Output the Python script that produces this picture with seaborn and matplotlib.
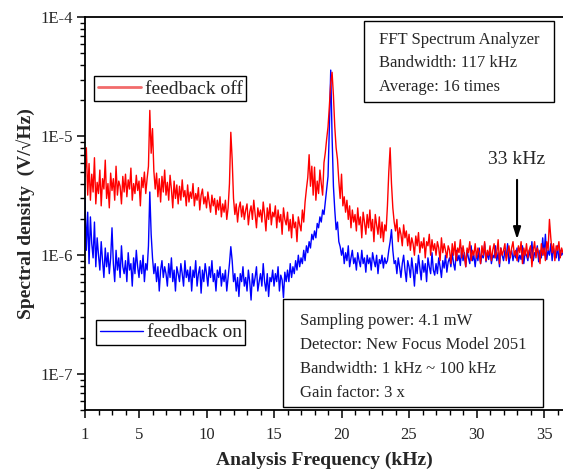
import numpy as np
import pandas as pd
import matplotlib
matplotlib.use("Agg")
import matplotlib.pyplot as plt
from matplotlib.lines import Line2D
from matplotlib.patches import Rectangle
from matplotlib.ticker import LogLocator, MultipleLocator, NullFormatter
import seaborn as sns

# spectral density in uV/sqrt(Hz), one row per kHz, 0.1 kHz steps from 1.0 kHz
red_off = [
    4.6, 8.0, 3.2, 5.9, 2.9, 4.8, 3.4, 6.6, 2.7, 4.1,
    3.3, 5.2, 2.6, 4.4, 3.6, 6.3, 3.0, 4.0, 2.5, 4.9,
    3.5, 4.4, 2.9, 5.6, 3.2, 4.2, 3.8, 2.7, 4.6, 3.4,
    4.8, 3.1, 4.3, 3.6, 5.4, 2.9, 4.0, 3.3, 4.7, 3.5,
    4.2, 2.6, 4.5, 3.7, 5.0, 3.3, 4.4, 5.6, 16.5, 7.2,
    11.6, 5.1, 3.6, 4.9, 3.1, 4.4, 2.8, 4.6, 3.4, 5.2,
    3.2, 4.1, 2.9, 4.7, 3.6, 2.5, 4.2, 3.0, 3.9, 2.7,
    3.8, 2.9, 4.3, 3.1, 3.5, 2.6, 3.9, 2.8, 3.4, 3.0,
    4.0, 2.6, 3.3, 2.9, 3.7, 2.4, 3.2, 3.6, 2.7, 3.1,
    2.5, 3.4, 2.8, 2.3, 3.2, 2.6, 3.0, 2.2, 2.9, 2.4,
    3.1, 2.1, 2.7, 2.3, 2.9, 2.0, 2.5, 4.0, 10.8, 6.4,
    3.0, 2.2, 2.7, 1.9, 2.5, 2.8, 2.1, 2.6, 2.0, 2.4,
    2.7, 1.8, 2.3, 2.6, 2.0, 2.9, 2.2, 1.7, 2.5, 2.1,
    2.4, 1.9, 2.8, 2.2, 1.6, 2.5, 2.0, 2.7, 1.8, 2.3,
    2.1, 2.6, 1.7, 2.4, 1.9, 2.2, 1.5, 2.5, 2.0, 1.8,
    2.3, 1.6, 2.0, 1.4, 2.2, 1.7, 1.9, 1.3, 2.1, 1.8,
    1.6, 2.4, 1.9, 2.8, 3.6, 4.5, 7.0, 3.8, 5.6, 3.2,
    5.5, 2.9, 4.2, 3.3, 5.2, 4.0, 3.2, 6.0, 7.3, 9.5,
    12.0, 18.0, 28.0, 34.5, 22.0, 12.0, 8.0, 6.4, 4.2, 3.0,
    4.8, 2.6, 3.1, 2.3, 2.9, 2.0, 2.6, 1.7, 2.4, 1.9,
    2.2, 1.6, 2.5, 1.8, 2.1, 1.4, 2.3, 1.9, 1.5, 2.2,
    1.7, 2.4, 1.6, 2.0, 1.3, 2.2, 1.8, 1.5, 2.1, 1.4,
    1.9, 1.3, 1.8, 1.6, 2.6, 5.0, 8.0, 4.0, 2.5, 1.9,
    1.6, 2.0, 1.3, 1.7, 1.5, 1.2, 1.8, 1.4, 1.6, 1.2,
    1.5, 1.1, 1.4, 1.25, 1.0, 1.45, 1.2, 1.55, 1.05, 1.3,
    1.15, 1.4, 0.95, 1.3, 1.2, 1.5, 1.0, 1.35, 1.1, 1.25,
    1.0, 1.3, 1.15, 0.9, 1.4, 1.05, 1.25, 1.1, 0.95, 1.2,
    1.1, 0.85, 1.25, 1.0, 1.3, 0.9, 1.15, 1.05, 1.35, 0.95,
    1.2, 1.0, 0.8, 1.15, 1.05, 1.3, 0.9, 1.1, 1.0, 1.25,
    0.95, 1.15, 1.05, 0.85, 1.2, 1.0, 1.3, 0.9, 1.1, 1.0,
    1.2, 0.9, 1.1, 1.25, 0.95, 1.05, 1.35, 0.85, 1.15, 1.0,
    1.1, 1.25, 0.9, 1.05, 1.2, 0.95, 1.15, 1.3, 1.0, 1.1,
    0.9, 1.2, 1.05, 1.3, 0.85, 1.15, 1.0, 1.25, 0.95, 1.1,
    1.2, 0.8, 1.1, 1.3, 0.95, 1.15, 1.05, 0.85, 1.25, 1.0,
    1.15, 0.9, 1.3, 1.1, 2.0, 1.4, 1.05, 1.25, 0.9, 1.2,
    1.1, 1.3, 0.95, 1.15, 1.05,
]

blue_on = [
    3.0, 1.1, 2.3, 0.85, 2.1, 1.25, 0.95, 1.9, 0.8, 1.4,
    1.0, 0.75, 1.3, 0.9, 0.65, 1.15, 0.8, 1.05, 0.7, 0.95,
    1.7, 0.85, 0.6, 1.1, 0.75, 0.95, 0.65, 1.2, 0.8, 0.7,
    0.9, 0.6, 1.05, 0.75, 0.85, 0.55, 0.95, 0.7, 1.1, 0.8,
    0.65, 0.9, 0.7, 1.0, 0.6, 0.85, 0.75, 1.2, 3.4, 1.5,
    0.95, 0.7, 0.85, 0.6, 0.8, 0.5, 0.75, 0.9, 0.65, 0.8,
    0.7, 0.55, 0.85, 0.65, 0.95, 0.6, 0.75, 0.5, 0.8, 0.7,
    0.6, 0.85, 0.7, 0.55, 0.9, 0.65, 0.75, 0.6, 0.8, 0.5,
    0.75, 0.65, 0.9, 0.55, 0.7, 0.8, 0.48, 0.75, 0.6, 0.85,
    0.7, 0.55, 0.8, 0.65, 0.9, 0.6, 0.7, 0.5, 0.75, 0.65,
    0.8, 0.55, 0.7, 0.6, 0.75, 0.5, 0.65, 0.85, 1.18, 0.9,
    0.6, 0.7, 0.5, 0.65, 0.45, 0.7, 0.6, 0.8, 0.55, 0.65,
    0.5, 0.75, 0.6, 0.42, 0.7, 0.55, 0.65, 0.8, 0.5, 0.6,
    0.7, 0.55, 0.85, 0.6, 0.5, 0.7, 0.45, 0.65, 0.6, 0.75,
    0.55, 0.7, 0.6, 0.8, 0.5, 0.68, 0.62, 0.44, 0.72, 0.6,
    0.75, 0.6, 0.85, 0.65, 0.8, 0.7, 0.9, 0.75, 1.0, 0.8,
    0.95, 0.85, 1.1, 0.9, 1.2, 1.05, 1.3, 1.15, 1.5, 1.35,
    1.6, 1.4, 1.85, 1.7, 2.1, 1.9, 2.4, 2.2, 2.8, 3.5,
    4.6, 12.0, 36.0, 10.0, 3.8, 2.4, 1.64, 1.9, 1.3, 1.18,
    1.0, 1.15, 0.85, 1.05, 0.9, 1.2, 0.8, 0.95, 1.1, 0.85,
    0.95, 0.75, 1.05, 0.9, 0.8, 1.1, 0.85, 0.95, 0.72, 1.0,
    0.85, 0.95, 0.75, 1.05, 0.9, 0.8, 1.0, 0.7, 0.92, 0.85,
    1.0, 0.78, 0.95, 0.85, 0.9, 1.1, 1.3, 1.64, 1.1, 0.85,
    0.9, 0.7, 0.95, 0.8, 0.65, 0.85, 1.0, 0.75, 0.6, 0.9,
    0.8, 0.65, 0.95, 0.75, 0.55, 0.85, 0.7, 1.0, 0.78, 0.62,
    0.9, 0.72, 0.85, 0.6, 0.95, 0.8, 0.7, 1.05, 0.75, 0.68,
    0.85, 0.7, 0.95, 0.8, 0.65, 0.9, 0.78, 1.0, 0.72, 0.88,
    0.95, 0.8, 1.05, 0.85, 0.75, 1.1, 0.9, 1.0, 0.82, 1.15,
    0.9, 1.05, 0.8, 1.1, 0.95, 0.85, 1.2, 0.9, 1.0, 0.8,
    1.05, 0.9, 1.15, 0.85, 1.0, 0.95, 1.25, 0.88, 1.05, 0.92,
    1.1, 0.85, 1.0, 0.95, 1.2, 0.9, 1.05, 0.8, 1.15, 1.0,
    0.9, 1.1, 0.95, 1.25, 0.85, 1.0, 1.1, 0.9, 1.05, 0.95,
    1.15, 0.88, 1.0, 0.92, 1.2, 0.85, 1.05, 1.0, 0.9, 1.1,
    0.95, 1.3, 0.9, 1.05, 1.0, 1.2, 0.88, 1.1, 0.95, 1.4,
    1.0, 1.5, 0.92, 1.1, 1.0, 1.25, 0.9, 1.15, 1.0, 0.95,
    1.2, 0.9, 1.1, 1.0, 1.05,
]

# frequency grid of the analyzer (0.1 kHz bins)
freq_khz = np.round(np.linspace(1.0, 36.4, len(red_off)), 1)

x_ticks = [1, 5, 10, 15, 20, 25, 30, 35]
y_ticks = [1e-7, 1e-6, 1e-5, 1e-4]
y_tick_labels = ["1E-7", "1E-6", "1E-5", "1E-4"]

info_top = ["FFT Spectrum Analyzer", "Bandwidth: 117 kHz", "Average: 16 times"]
info_bottom = ["Sampling power: 4.1 mW", "Detector: New Focus Model 2051",
               "Bandwidth: 1 kHz ~ 100 kHz", "Gain factor: 3 x"]
marker_freq = 33

sns.set_style("ticks")
plt.rcParams["font.family"] = ["Liberation Serif", "DejaVu Serif"]

df = pd.DataFrame({
    "freq": freq_khz,
    "off": np.array(red_off) * 1e-6,
    "on": np.array(blue_on) * 1e-6,
})

fig = plt.figure(figsize=(5.63, 4.70), dpi=100)
ax = fig.add_axes([85 / 563, 60 / 470, 479.3 / 563, 392.7 / 470])

sns.lineplot(data=df, x="freq", y="on", color="blue", lw=1.0, estimator=None, ax=ax)
sns.lineplot(data=df, x="freq", y="off", color="red", lw=1.0, estimator=None, ax=ax)

ax.set_yscale("log")
ax.set_xlim(1, 36.5)
ax.set_ylim(5e-8, 1e-4)

ax.set_xticks(x_ticks)
ax.set_xticklabels([str(t) for t in x_ticks])
ax.xaxis.set_minor_locator(MultipleLocator(1))
ax.set_yticks(y_ticks)
ax.set_yticklabels(y_tick_labels)
ax.yaxis.set_minor_locator(LogLocator(base=10, subs=range(2, 10)))
ax.yaxis.set_minor_formatter(NullFormatter())

ax.tick_params(which="major", direction="out", length=6, width=1.1, labelsize=12, color="black")
ax.tick_params(which="minor", direction="out", length=3.5, width=1.0, color="black")
ax.tick_params(axis="x", which="major", pad=6)
ax.tick_params(axis="y", which="major", pad=3)
for sp in ax.spines.values():
    sp.set_linewidth(1.3)
    sp.set_color("black")

ax.set_xlabel("Analysis Frequency (kHz)", fontsize=14, fontweight="bold")
ax.set_ylabel("Spectral density  (V/\u221aHz)", fontsize=14, fontweight="bold")
ax.xaxis.set_label_coords(0.5, -0.105)
ax.yaxis.set_label_coords(-0.104, 0.5)

# two separate legend boxes
leg_kw = dict(loc="upper left", fontsize=14, frameon=True, fancybox=False, framealpha=1,
              borderpad=0.2, handlelength=2.2, handletextpad=0.2, borderaxespad=0)
leg1 = ax.legend(handles=[Line2D([], [], color="#f26b6b", lw=2)], labels=["feedback off"],
                 bbox_to_anchor=(0.0188, 0.8505), **leg_kw)
leg1.get_frame().set_edgecolor("black")
leg1.get_frame().set_linewidth(1.0)
ax.add_artist(leg1)
leg2 = ax.legend(handles=[Line2D([], [], color="blue", lw=1)], labels=["feedback on"],
                 bbox_to_anchor=(0.0229, 0.2292), **leg_kw)
leg2.get_frame().set_edgecolor("black")
leg2.get_frame().set_linewidth(1.0)

# instrument info boxes
ax.add_patch(Rectangle((0.582, 0.785), 0.3965, 0.206, transform=ax.transAxes,
                       facecolor="white", edgecolor="black", lw=1.0, zorder=5))
for txt, yy in zip(info_top, [0.942, 0.884, 0.8225]):
    ax.text(0.613, yy, txt, transform=ax.transAxes, fontsize=12, va="center", ha="left", zorder=6)

ax.add_patch(Rectangle((0.413, 0.0076), 0.5426, 0.2751, transform=ax.transAxes,
                       facecolor="white", edgecolor="black", lw=1.0, zorder=5))
for txt, yy in zip(info_bottom, [0.2266, 0.1655, 0.1044, 0.0433]):
    ax.text(0.4486, yy, txt, transform=ax.transAxes, fontsize=12, va="center", ha="left", zorder=6)

# 33 kHz marker
ax.text(marker_freq, 6.4e-6, f"{marker_freq} kHz", fontsize=14, ha="center", va="center")
ax.annotate("", xy=(marker_freq, 1.36e-6), xytext=(marker_freq, 4.3e-6),
            arrowprops=dict(arrowstyle="-|>,head_width=0.22,head_length=0.7",
                            color="black", lw=1.5, shrinkA=0, shrinkB=0))

fig.savefig("out.png", dpi=100)
